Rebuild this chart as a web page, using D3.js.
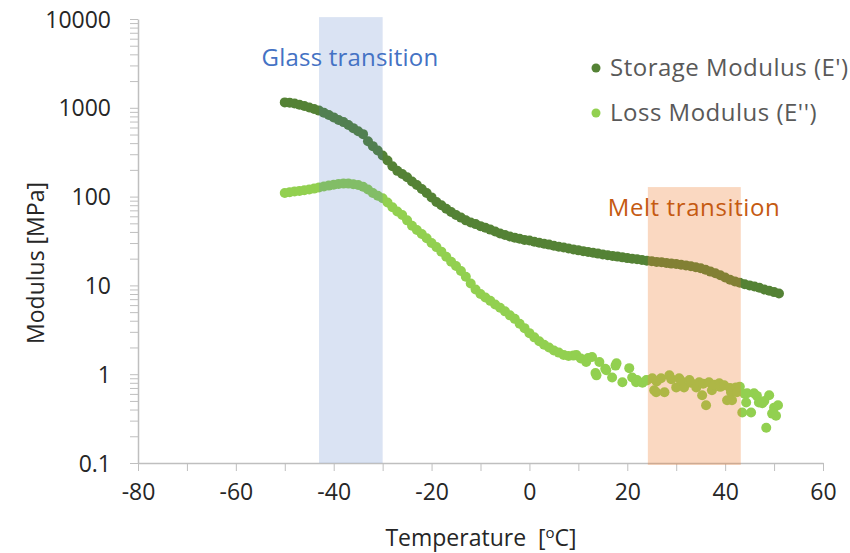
<!DOCTYPE html>
<html>
<head>
<meta charset="utf-8">
<script src="https://cdn.jsdelivr.net/npm/d3@7"></script>
<style>
  body { margin: 0; background: #fff; }
  text { font-family: "Open Sans", Lato, sans-serif; }
</style>
</head>
<body>
<svg width="850" height="553"></svg>
<script>
// Storage modulus E' (MPa) vs temperature (°C)
const storageTemp = [-50,-49,-48,-47,-46,-45,-44,-43,-42,-41,-40,-39,-38,-37,-36,-35,-34,-33,-32,-31,-30,-29,-28,-27,-26,-25,-24,-23,-22,-21,-20,-19,-18,-17,-16,-15,-14,-13,-12,-11,-10,-9,-8,-7,-6,-5,-4,-3,-2,-1,0,1,2,3,4,5,6,7,8,9,10,11,12,13,14,15,16,17,18,19,20,21,22,23,24,25,26,27,28,29,30,31,32,33,34,35,36,37,38,39,40,41,42,43,44,45,46,47,48,49,50,51];
const storageValue = [1150,1140,1120,1080,1050,1010,970,930,880,830,780,730,690,640,590,545,505,420,370,330,290,255,220,195,180,165,148,135,122,110,98,87,80,73,67,62,58,54,51,49,46.5,44.5,42.5,40.5,38.5,37,35.5,34.5,33.5,32.5,32,31,30.2,29.5,28.8,28,27.3,26.7,26,25.4,24.8,24.3,23.8,23.3,22.8,22.3,21.9,21.5,21.1,20.7,20.3,20,19.7,19.3,19,18.7,18.4,18.2,17.9,17.6,17.4,17.1,16.8,16.4,16,15.6,15,14.3,13.7,13,12.3,11.6,11.1,10.7,10.3,10,9.7,9.4,9,8.7,8.4,8.1];

// Loss modulus E'' (MPa) vs temperature (°C)
const lossTemp = [-50,-49,-48,-47,-46,-45,-44,-43,-42,-41,-40,-39,-38,-37,-36,-35,-34,-33,-32,-31,-30,-29,-28,-27,-26,-25,-24,-23,-22,-21,-20,-19,-18,-17,-16,-15,-14,-13,-12,-11,-10,-9,-8,-7,-6,-5,-4,-3,-2,-1,0,1,2,3,4,5,6,7,8,9,9.6,10.5,11.6,12,12.8,13.5,13.7,14.3,15.5,15.7,16.9,17.6,17.8,19,20.4,21,21.8,22,23.1,23.9,24,25.1,25.5,25.9,26,26.9,27.6,28.6,29,30,30.6,31,31.6,32.7,33,34.1,34.7,35.3,35.5,36.1,36.7,37.3,37.8,38.8,39,39.8,40.4,41,41.2,41.4,42.2,42.4,43,43.5,44,44.3,44.5,45.3,45.9,46.5,46.9,47.6,48,48.4,49,49.6,50,50.4,50.8];
const lossValue = [110,112,114,116,118,120,123,127,130,133,136,139,140,140,138,135,129,120,110,102,96,86,76,68,62,54,47,42,38,34,30,27,24,21,18.5,16.5,14.5,12.5,10.5,9,8,7.3,6.7,6.1,5.6,5.1,4.6,4.2,3.7,3.3,2.9,2.6,2.35,2.15,2,1.85,1.75,1.65,1.6,1.62,1.64,1.5,1.37,1.52,1.56,1.03,0.97,1.37,1.15,1.11,0.92,1.25,1.33,0.81,1.17,0.92,0.81,0.86,0.8,0.86,0.85,0.9,0.66,0.625,0.83,0.9,0.625,0.97,0.88,0.71,0.9,0.84,0.71,0.86,0.8,0.71,0.81,0.58,0.78,0.446,0.81,0.66,0.76,0.79,0.72,0.75,0.51,0.7,0.625,0.51,0.71,0.625,0.72,0.37,0.6,0.48,0.61,0.37,0.61,0.57,0.48,0.47,0.5,0.25,0.58,0.36,0.42,0.34,0.446];

const xTicks = [-80,-70,-60,-50,-40,-30,-20,-10,0,10,20,30,40,50,60];
const yTicks = [0.1,1,10,100,1000,10000];
const seriesNames = ["Storage Modulus (E')", "Loss Modulus (E'')"];
const seriesColors = ["#548235", "#92D050"];

// shaded transition regions: [from, to] in °C, [bottom, top] in MPa
const glassRange = [-43, -30];
const glassSpan = [0.1, 10500];
const meltRange = [24.2, 43.2];
const meltSpan = [0.1, 128];

const svg = d3.select("svg");
const x = d3.scaleLinear().domain([-80, 60]).range([138, 823]);
const y = d3.scaleLog().domain([0.1, 10000]).range([463, 19]);

const axisColor = "#bfbfbf";
const textColor = "#262626";

// minor log ticks on the y axis
const minorTicks = [];
yTicks.slice(0, -1).forEach(d => {
  for (let k = 2; k <= 9; k++) minorTicks.push(d * k);
});

const yMinor = svg.append("g")
  .attr("transform", "translate(138,0)")
  .call(d3.axisLeft(y).tickValues(minorTicks).tickFormat("").tickSize(8));
yMinor.select(".domain").remove();
yMinor.selectAll("line").attr("stroke", axisColor);

const yAxis = svg.append("g")
  .attr("transform", "translate(138,0)")
  .call(d3.axisLeft(y).tickValues(yTicks).tickFormat(d3.format("~g")).tickSize(8).tickSizeOuter(0).tickPadding(19));
yAxis.select(".domain").attr("stroke", axisColor).attr("stroke-width", 1.5);
yAxis.selectAll("line").attr("stroke", axisColor);
yAxis.selectAll("text").attr("fill", textColor).style("font-size", "23px").attr("dy", "0.35em");

const xAxis = svg.append("g")
  .attr("transform", "translate(0,463)")
  .call(d3.axisBottom(x).tickValues(xTicks).tickFormat(d => d % 20 === 0 ? d : "").tickSize(8).tickSizeOuter(0).tickPadding(13));
xAxis.select(".domain").attr("stroke", axisColor).attr("stroke-width", 1.5);
xAxis.selectAll("line").attr("stroke", axisColor);
xAxis.selectAll("text").attr("fill", textColor).style("font-size", "23px");

// data points
const storage = storageTemp.map((t, i) => [t, storageValue[i]]);
const loss = lossTemp.map((t, i) => [t, lossValue[i]]);

svg.append("g").selectAll("circle")
  .data(storage)
  .enter().append("circle")
  .attr("cx", d => x(d[0]))
  .attr("cy", d => y(d[1]))
  .attr("r", 5)
  .attr("fill", seriesColors[0]);

svg.append("g").selectAll("circle")
  .data(loss)
  .enter().append("circle")
  .attr("cx", d => x(d[0]))
  .attr("cy", d => y(d[1]))
  .attr("r", 5)
  .attr("fill", seriesColors[1]);

// transition bands drawn on top, semi-transparent
svg.append("rect")
  .attr("x", x(glassRange[0]))
  .attr("width", x(glassRange[1]) - x(glassRange[0]))
  .attr("y", y(glassSpan[1]))
  .attr("height", y(glassSpan[0]) - y(glassSpan[1]))
  .attr("fill", "#4472C4")
  .attr("fill-opacity", 0.2);

svg.append("rect")
  .attr("x", x(meltRange[0]))
  .attr("width", x(meltRange[1]) - x(meltRange[0]))
  .attr("y", y(meltSpan[1]))
  .attr("height", y(meltSpan[0]) - y(meltSpan[1]) + 2)
  .attr("fill", "#ED7D31")
  .attr("fill-opacity", 0.3);

svg.append("text")
  .attr("x", 350).attr("y", 66)
  .attr("text-anchor", "middle")
  .attr("fill", "#4472C4")
  .style("font-size", "24px")
  .style("letter-spacing", "0.2px")
  .text("Glass transition");

svg.append("text")
  .attr("x", 694).attr("y", 216)
  .attr("text-anchor", "middle")
  .attr("fill", "#C55A11")
  .style("font-size", "24px")
  .style("letter-spacing", "0.6px")
  .text("Melt transition");

// legend
const legend = svg.append("g");
seriesNames.forEach((name, i) => {
  const ly = 68 + i * 45;
  legend.append("circle").attr("cx", 596).attr("cy", ly).attr("r", 4.5).attr("fill", seriesColors[i]);
  legend.append("text")
    .attr("x", 610).attr("y", ly).attr("dy", "0.35em")
    .attr("fill", "#595959")
    .style("font-size", "24px")
    .style("letter-spacing", "0.5px")
    .text(name);
});

// axis titles
const xTitle = svg.append("text")
  .attr("x", 481).attr("y", 546)
  .attr("text-anchor", "middle")
  .attr("fill", textColor)
  .style("font-size", "23px");
xTitle.append("tspan").text("Temperature\u00a0 [");
xTitle.append("tspan").attr("dy", -8).style("font-size", "15px").text("o");
xTitle.append("tspan").attr("dy", 8).text("C]");

svg.append("text")
  .attr("transform", "translate(44,263) rotate(-90)")
  .attr("text-anchor", "middle")
  .attr("fill", textColor)
  .style("font-size", "23px")
  .text("Modulus [MPa]");
</script>
</body>
</html>
